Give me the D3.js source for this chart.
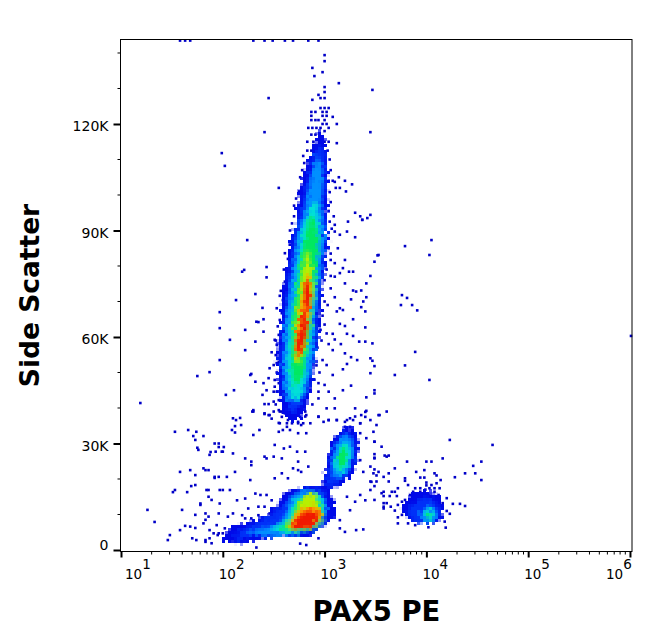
<!DOCTYPE html>
<html lang="en">
<head>
<meta charset="UTF-8">
<title>PAX5 PE vs Side Scatter</title>
<style>
body { margin: 0; background: #fff; }
text { font-family: "DejaVu Sans", sans-serif; fill: #000; }
.tick line, .minor { stroke: #000; }
</style>
</head>
<body>
<svg width="653" height="641">
  <defs>
    <filter id="cells" filterUnits="userSpaceOnUse" x="0" y="0" width="653" height="641" color-interpolation-filters="sRGB">
      <feGaussianBlur in="SourceGraphic" stdDeviation="1.6"/>
      <feComponentTransfer result="soft">
        <feFuncA type="linear" slope="4" intercept="-1"/>
      </feComponentTransfer>
      <feTurbulence type="fractalNoise" baseFrequency="0.4" numOctaves="2" seed="4" result="noise"/>
      <feDisplacementMap in="soft" in2="noise" scale="9" xChannelSelector="R" yChannelSelector="G" result="rough"/>
      <feFlood x="1" y="1" width="1" height="1" flood-color="#000"/>
      <feComposite width="3" height="3"/>
      <feTile result="grid"/>
      <feComposite in="rough" in2="grid" operator="in"/>
      <feMorphology operator="dilate" radius="1"/>
    </filter>
  </defs>
</svg>
<script src="https://cdn.jsdelivr.net/npm/d3@7"></script>
<script>
// x values are log10(PAX5 PE), y values are side scatter in thousands
var xDecades = [1, 2, 3, 4, 5, 6];
var xMinorSteps = [2, 3, 4, 5, 6, 7, 8, 9];
var yMajor = [0, 30, 60, 90, 120];
var yMinor = [10, 20, 40, 50, 70, 80, 100, 110, 130, 140];
var levelColors = ["#0008e8", "#0030f8", "#0090ff", "#00e0d8", "#00e860", "#b8f000", "#ff9800", "#f01800"];
var dotColor = "#0000c8";

// density bands, outermost first: [level, outline]
var ridgeBands = [
  [0, [[2.69,36],[2.58,39.4],[2.55,44.2],[2.55,49.9],[2.53,55.5],[2.57,63.9],[2.6,74.1],[2.67,87.3],[2.72,91],[2.73,96.6],[2.77,102.3],[2.8,106.2],[2.87,111.8],[2.92,116],[2.95,118],[2.99,116],[3.01,111.8],[3.04,106.2],[3.03,102.3],[3.03,96.6],[3.01,91],[3.04,87.3],[2.98,74.1],[2.95,63.9],[2.92,55.5],[2.89,49.9],[2.85,44.2],[2.8,39.4]]],
  [1, [[2.69,38.5],[2.59,44.2],[2.57,55.5],[2.6,63.9],[2.64,74.1],[2.7,87.3],[2.77,96.6],[2.84,106.2],[2.9,111.8],[2.95,114],[2.99,111.8],[3.01,106.2],[3.0,96.6],[3.01,87.3],[2.96,74.1],[2.92,63.9],[2.88,55.5],[2.82,44.2]]],
  [2, [[2.7,41],[2.61,44.2],[2.59,55.5],[2.61,63.9],[2.66,74.1],[2.72,87.3],[2.81,96.6],[2.88,106.2],[2.93,111],[2.98,106.2],[2.97,96.6],[3.0,87.3],[2.94,74.1],[2.91,63.9],[2.9,55.5],[2.81,44.2]]],
  [3, [[2.72,42],[2.66,44.2],[2.64,49.9],[2.64,55.5],[2.66,63.9],[2.71,74.1],[2.76,87.3],[2.81,92.9],[2.86,96.6],[2.91,98],[2.94,96.6],[2.94,92.9],[2.95,87.3],[2.91,74.1],[2.88,63.9],[2.84,55.5],[2.81,49.9],[2.78,44.2]]],
  [4, [[2.72,46],[2.68,49.9],[2.68,55.5],[2.68,63.9],[2.73,74.1],[2.8,87.3],[2.88,94],[2.94,87.3],[2.9,74.1],[2.86,63.9],[2.82,55.5],[2.79,49.9]]],
  [5, [[2.75,52],[2.7,57],[2.71,63.9],[2.76,74.1],[2.83,85],[2.895,74.1],[2.85,63.9],[2.81,57]]],
  [6, [[2.75,53.5],[2.705,58],[2.74,63.9],[2.775,70.4],[2.83,78],[2.875,70.4],[2.845,63.9],[2.795,58]]],
  [7, [[2.83,67],[2.795,71.8],[2.83,76],[2.865,71.8]]],
  [7, [[2.79,57.5],[2.755,63],[2.79,68],[2.83,63]]],
  [7, [[2.75,54.5],[2.72,58.5],[2.75,61.5],[2.785,58.5]]]
];

var lowerBands = [
  [0, [[2.0,2.8],[2.1,6.5],[2.34,8.5],[2.49,11.3],[2.63,16.1],[2.79,17.7],[2.98,17.7],[3.08,14.9],[3.12,10.4],[3.02,7.6],[2.83,4.2],[2.66,3.7],[2.43,3.4],[2.17,2.0]]],
  [1, [[2.12,4.2],[2.27,7],[2.48,9.9],[2.66,14.9],[2.81,16.9],[2.97,16.9],[3.03,13.2],[3.03,9.9],[2.93,7],[2.76,4.8],[2.56,3.9],[2.27,3.7],[2.12,2.8]]],
  [2, [[2.24,5.1],[2.56,7.6],[2.66,14.6],[2.79,16.9],[2.97,16.1],[3.02,11.3],[2.97,7],[2.76,4.8],[2.53,3.9]]],
  [3, [[2.49,5.6],[2.64,9.3],[2.71,14.1],[2.86,16.3],[2.97,14.6],[3.0,10.4],[2.93,7],[2.76,4.8]]],
  [4, [[2.56,6.2],[2.68,9],[2.74,13.5],[2.86,16.1],[2.95,13.5],[2.98,9.9],[2.92,7],[2.76,5.4]]],
  [5, [[2.62,6.5],[2.72,11],[2.8,15.5],[2.9,16],[2.95,12.5],[2.99,9],[2.92,6.8],[2.75,5.6]]],
  [6, [[2.65,7.2],[2.75,11],[2.89,12.5],[2.97,10],[2.9,6.9],[2.74,5.6]]],
  [7, [[2.68,7],[2.77,10],[2.91,11],[2.95,9],[2.86,6.8],[2.72,6]]]
];

var upperLobeBands = [
  [0, [[3.08,31],[3.2,34.4],[3.3,33],[3.33,27.3],[3.28,21.7],[3.15,18.3],[3.02,16.9],[2.97,19.2],[3.03,24.5]]],
  [1, [[3.1,30],[3.2,33.5],[3.28,32],[3.3,27.3],[3.25,22.3],[3.13,18.9],[3.03,18],[3.01,20.3],[3.06,24.5]]],
  [2, [[3.1,29],[3.2,32.4],[3.28,30.1],[3.28,25.4],[3.2,21.1],[3.1,20.3],[3.07,24.5]]],
  [3, [[3.12,27.3],[3.2,30.4],[3.26,27.6],[3.23,23.9],[3.15,21.7],[3.1,23.4]]],
  [4, [[3.13,26.2],[3.19,29],[3.22,27.3],[3.19,23.9],[3.14,23.4]]]
];

var rightBands = [
  [0, [[3.76,12.2],[3.87,15.9],[4.1,15.9],[4.16,12.1],[4.13,8.4],[3.99,7.3],[3.82,9]]],
  [1, [[3.84,12.7],[4.0,14.9],[4.13,12.1],[4.11,8.5],[3.94,7.3],[3.82,9.9]]],
  [2, [[3.94,10.7],[4.03,12.7],[4.11,10.7],[4.08,8.2],[3.97,7.9]]],
  [3, [[3.97,9.9],[4.01,11.3],[4.08,9.9],[4.03,8.5]]],
  [4, [[4.0,9.9],[4.03,10.4],[4.04,9.3],[4.0,9]]]
];

// single events
var topEdgeDots = [[1.58,143.5],[1.63,143.5],[1.68,143.5],[2.3,143.5],[2.41,143.5],[2.49,143.5],[2.61,143.5],[2.69,143.5],[2.84,143.5],[2.94,143.5],[6.01,60.3]];

var ridgeTopDots = [[3.0,139.4],[3.0,137.7],[2.88,135.8],[2.98,134.6],[2.9,133.5],[3.14,131.5],[3.47,129.6],[3.0,130.4],[3.0,129],[2.94,128.2],[2.45,127.3],[2.96,127.3],[3.0,127.3],[2.88,126.8],[2.41,117.7],[3.45,117.7],[2.55,102],[1.99,111.8],[2.02,108.2],
  [2.96,124.5],[3.0,124.5],[3.04,124.5],[2.87,123.4],[2.91,123.4],[2.98,123.4],[3.02,123.4],[2.87,122.3],[2.98,122.3],[3.02,122.3],[3.08,122],[2.87,121.1],[2.91,121.1],[2.94,121.1],[3.0,121.1],[2.98,120],[3.02,120],[3.12,120],[2.84,118.9],[2.88,118.9],[2.92,118.9],[2.96,118.9],[3.0,118],[3.04,118.9],[2.87,117],[2.91,117],[2.95,116],[3.0,115],[2.83,115],[2.89,115],[2.97,115],[3.04,115],[3.12,114.6],[2.79,111],[2.83,112.5],[2.87,112.5],[3.03,112.5],[3.05,110],[2.8,109],[2.78,107],[3.06,107],[3.14,105],[2.76,105],[2.8,103.6],[3.04,104],[3.08,104],[3.1,103.7],[3.2,104],[3.27,103],[2.75,101],[3.05,100.8],[3.11,102],[3.15,102],[3.21,101],[2.72,99],[2.7,97],[3.06,98],[3.04,95.5],[2.7,94],[2.68,92],[3.05,92.5],[3.09,94],[3.35,94],[3.42,93.5],[2.66,90],[3.07,90.5],[3.3,95],[3.37,93]];

var ridgeRightDots = [[3.1,91.6],[3.23,92.5],[3.1,89.7],[3.22,89.7],[3.15,88.8],[3.3,88.1],[3.13,85],[3.2,81.7],[3.49,81.2],[3.06,81.7],[3.1,80.8],[3.18,79.4],[3.15,78],[3.24,78.4],[3.28,78.4],[3.53,83.1],[3.06,77.2],[3.1,77],[3.45,77.2],[3.2,75.1],[3.41,75.1],[3.06,73.7],[3.28,73.1],[3.31,72.8],[3.36,73.1],[3.1,71.2],[3.26,70.6],[3.41,71.2],[3.38,70],[3.36,68.4],[3.4,67.2],[3.15,68.1],[3.18,67.6],[3.12,67.2],[3.28,65],[3.15,63.7],[3.2,63.1],[3.4,62.7],[3.02,61],[3.08,60.9],[3.22,60.9],[3.1,59.3],[3.28,60.3],[3.34,58.7],[3.4,58.7],[3.47,58.2],[3.04,58],[3.16,58],[3.08,56.3],[3.2,55.4],[3.26,54.3],[3.45,54],[3.32,53.5],[3.47,53.3],[3.49,51.8],[2.98,53.5],[3.02,52.1],[3.22,52.4],[3.18,50.9],[3.08,49.3],[3.45,49.8],[2.94,47],[3.0,46.5],[3.26,46.3],[3.18,45],[3.49,45],[3.49,44.1],[2.94,44.6],[3.04,44.6],[3.1,42.7],[3.41,43],[2.94,42.7],[3.02,39.9],[3.1,39.9],[3.3,39.9],[3.41,39.2],[3.36,38],[3.4,37.5],[3.45,36.6],[3.53,38],[2.94,37.5],[3.04,36.6],[2.99,36.1],[3.12,36.6],[3.22,36.6],[3.25,37.1],[3.28,36.6],[3.35,35.7],[3.2,34.7],[3.25,34.7],
  [3.04,85],[3.06,83.5],[3.02,79],[3.0,76],[3.0,70],[2.98,66],[2.96,62],[2.93,57],[2.92,52],[2.9,48],[2.86,45],[2.88,41],[2.82,38],[3.03,69],[3.0,63.5],[2.97,59],[2.95,50]];

var ridgeLeftDots = [[2.43,79.7],[2.43,76.8],[2.61,83.6],[2.61,75.6],[2.61,74.2],[2.32,72.1],[2.56,71.6],[2.59,70.4],[2.53,68.1],[2.33,64.3],[2.4,65],[2.4,61.5],[2.58,66.7],[2.56,64.8],[2.55,60.6],[2.53,57.8],[2.48,55.7],[2.52,54.9],[2.5,52.1],[2.46,51.2],[2.53,52.6],[2.28,49.6],[2.45,48.4],[2.32,47.4],[2.4,47],[2.51,47.9],[2.43,45],[2.5,44.6],[2.53,44.6],[2.56,44.6],[2.51,46],[2.55,47],[2.5,41.8],[2.41,41.1],[2.45,41.1],[2.55,42.2],[2.3,39],[2.41,38.5],[2.45,38],[2.5,39],[2.55,39.4],[2.58,39],[2.58,37.5],[2.61,38.5],[2.48,37],[2.55,35.8],[2.64,36.6],[2.68,35.7],[2.63,34.7],[2.74,36.1],[2.77,35.2],[2.86,35.7],[2.69,38],[2.76,37.5],[2.81,39],
  [2.66,86],[2.64,82],[2.6,79],[2.57,73],[2.54,63],[2.52,59],[2.53,50],[2.55,53],[2.52,41]];

var lowerSparseDots = [[2.1,37.1],[2.29,39],[2.18,35.2],[2.12,34.9],[1.74,33.3],[1.81,32.1],[2.12,33.1],[2.3,32.4],[2.36,33.8],[2.41,38.3],[2.46,38],[2.56,39],[2.59,38.7],[2.66,38],[2.69,39],[2.81,37.6],[2.56,35.7],[2.63,35.7],[2.74,35.7],[2.79,35.7],[2.55,33.3],[2.59,33.8],[2.66,33.8],[2.74,32.9],[2.82,32.9],[2.94,37.6],[3.04,36.6],[3.12,36.6],[3.2,36.1],[3.3,37.6],[3.35,35.7],[3.4,38.9],[3.54,38],[3.61,39],[3.51,35.2],[3.48,33.3],[3.41,31.5],[3.35,32.9],[3.49,30.5],[3.56,29.1],[3.61,26.3],[3.49,25.8],[3.35,25.3],[3.45,23.5],[3.38,22],[3.46,19.2],[3.53,22],[3.58,20.6],[3.45,16.9],[3.56,16],[3.58,12.2],[3.35,15.5],[3.4,14],[3.3,13.6],[3.22,15],[3.25,11.2],[3.15,8.4],[3.15,6.1],[3.2,5.1],[3.31,5.6],[3.38,5.8],[2.94,3.3],[2.76,1.8],[2.82,1.4],[2.33,0.7],[2.0,4.7],[2.02,6.1],
  [1.92,30],[1.96,30],[1.99,27.7],[2.0,27.7],[1.93,27.7],[1.76,28.2],[2.1,27.2],[2.28,24.9],[2.28,23.9],[2.22,25.8],[2.41,26.3],[2.43,25.8],[2.51,29.6],[2.6,28.6],[2.66,29.1],[2.73,27.7],[2.81,27.7],[2.5,26.3],[2.58,25.8],[2.74,24.9],[2.84,23.5],[2.69,23],[2.74,22.5],[2.77,22],[2.58,21.6],[2.64,20.2],[2.51,20.2],[2.27,19.7],[2.12,22],[2.04,20.6],[1.96,20.6],[1.92,20.6],[1.81,23],[1.86,22.5],[1.73,21.1],[1.69,18],[2.0,16.9],[2.07,16.9],[1.86,16.9],[1.78,13.1],[1.86,15],[1.97,13.1],[2.14,14],[2.22,14.5],[2.32,15.9],[2.37,15.5],[2.43,15.5],[2.25,11.7],[2.35,12.2],[2.41,12.2],[2.48,14],[1.83,10.3],[1.86,9.4],[1.96,10.3],[2.05,9.4],[2.1,10.3],[2.19,9.8],[2.22,8.9],[2.28,8.9],[2.35,9.8],[2.46,10.3],[2.5,10.3],[1.81,7.5],[1.91,4.7],[1.96,4.7],[1.87,3.3],[1.83,2.3],[1.74,2.8],[1.7,3.3],[1.89,1.9],[1.68,6.6],
  [1.19,41.4],[1.26,11.3],[1.33,7.9],[1.48,4.2],[1.58,5.6],[1.46,2.8],[1.63,6.8],[1.53,16.9],[1.51,16.3],[1.58,22],[1.68,22.5],[1.73,18.3],[1.83,22.5],[1.87,26.8],[1.92,20.3],[1.78,12.7],[1.89,14.1],[1.83,8.5],[1.73,6.2],[1.83,2.8],[1.87,5.6],[1.94,7],[1.95,4.2],[1.84,16.9],[1.65,16.3],[1.97,16.9],[1.6,11.3],[1.73,9.9],[1.53,33.3],[1.66,33.8],[1.71,32.1],[1.96,29],[2.01,29],[1.88,27.6],[1.75,28.8],[1.73,31],
  [1.75,49],[1.97,62.5],[1.97,67],[2.21,78.9],[2.24,87.3],[2.19,78.4],[2.13,70.4],[2.39,68.2],[2.35,64.2],[2.07,59.2],[2.22,56.3],[2.27,49.3],[2.13,36.6],[2.17,37.2],[2.09,33.8],[2.03,43.7],[2.11,45],[2.3,39.4],[2.39,43.7],[1.87,50.1],[1.97,53.5],[2.22,62],[2.51,59.2],[2.32,58.7]];

var rightSparseDots = [[3.76,71.8],[3.79,85.6],[4.05,87.3],[4.03,83.1],[3.81,71],[3.86,69],[3.91,67.5],[3.69,49.3],[3.79,52],[4.03,47.9],[4.23,31],[4.65,29.6],[3.89,55.8],[3.52,83],[3.37,93],[3.45,94.4],[3.75,69],
  [3.49,30.5],[3.49,27],[3.49,26],[3.59,26.6],[3.63,26.6],[3.49,22.7],[3.81,24.9],[4.0,24.9],[4.05,24.9],[4.16,25.8],[4.54,24.9],[4.46,23.7],[3.69,23],[3.48,21.6],[3.51,21],[3.63,21.6],[3.9,22],[3.98,22.5],[4.08,21.6],[4.1,21],[4.38,21.6],[4.48,21.6],[4.28,20.5],[4.54,19.7],[3.79,20.2],[3.79,19.5],[3.94,20.4],[3.98,20.4],[4.14,19.7],[3.45,19.3],[3.51,19.3],[3.63,19.3],[3.49,18],[3.82,18.3],[4.0,19],[4.0,18.2],[4.05,18.3],[4.1,18.8],[3.72,17.4],[3.89,17.4],[3.94,17.4],[3.99,17],[4.03,17.4],[4.08,17.4],[4.13,17.4],[3.69,16.4],[3.58,16.4],[3.66,16.4],[3.87,16.4],[3.94,16.4],[4.08,16.4],[3.58,15.2],[3.64,15.2],[3.71,15.2],[3.84,15.5],[3.92,15.5],[4.02,15.5],[4.12,15.5],[3.49,14.1],[3.61,13.2],[3.58,13.2],[3.58,11.7],[3.65,12.2],[3.69,11.1],[3.72,12.7],[3.76,13.6],[3.79,14.1],[4.2,14.6],[4.26,13],[4.33,13],[4.38,12.4],[4.16,13.2],[4.2,11],[4.23,10.2],[4.18,8],[4.19,6.3],[3.72,7.5],[4.02,6.4],[3.89,7],[3.82,7.5],[3.76,9.9],[3.72,9.2]];

var svg = d3.select("svg");
var plot = { left: 120.5, right: 632, top: 39.5, bottom: 551.5 };

var x = d3.scaleLog().domain([10, Math.pow(10, 6.02)]).range([121, plot.right]);
var y = d3.scaleLinear().domain([0, 143.8]).range([550, plot.top]);

var px = function (d) { return x(Math.pow(10, d[0])); };
var py = function (d) { return y(d[1]); };

// single events
var allDots = topEdgeDots.concat(ridgeTopDots, ridgeRightDots, ridgeLeftDots, lowerSparseDots, rightSparseDots);
svg.append("g").selectAll("rect").data(allDots).enter().append("rect")
  .attr("x", function (d) { return px(d) - 1.3; })
  .attr("y", function (d) { return py(d) - 1.3; })
  .attr("width", 2.6)
  .attr("height", 2.6)
  .attr("fill", dotColor);

// density bands
var outline = d3.line().x(px).y(py).curve(d3.curveCardinalClosed.tension(0.3));
var density = svg.append("g").attr("filter", "url(#cells)");
[rightBands, upperLobeBands, lowerBands, ridgeBands].forEach(function (bands) {
  density.append("g").selectAll("path").data(bands).enter().append("path")
    .attr("d", function (d) { return outline(d[1]); })
    .attr("fill", function (d) { return levelColors[d[0]]; });
});

// frame
svg.append("rect")
  .attr("x", plot.left)
  .attr("y", plot.top)
  .attr("width", plot.right - plot.left)
  .attr("height", plot.bottom - plot.top)
  .attr("fill", "none")
  .attr("stroke", "#000");

// x axis
var xAxis = svg.append("g")
  .attr("transform", "translate(0," + plot.bottom + ")")
  .call(d3.axisBottom(x)
    .tickValues(xDecades.map(function (e) { return Math.pow(10, e); }))
    .tickSize(6)
    .tickFormat(""));
xAxis.select(".domain").remove();
xAxis.selectAll(".tick line").attr("stroke-width", 2);

var xMinor = [];
xDecades.slice(0, 5).forEach(function (e) {
  xMinorSteps.forEach(function (s) { xMinor.push(s * Math.pow(10, e)); });
});
svg.append("g").selectAll("line").data(xMinor).enter().append("line")
  .attr("class", "minor")
  .attr("x1", function (d) { return x(d); })
  .attr("x2", function (d) { return x(d); })
  .attr("y1", plot.bottom)
  .attr("y2", plot.bottom + 3);

var xLabelShift = [4, -4, -4, -4, -4, -24];
var xLabels = svg.append("g").selectAll("text").data(xDecades).enter().append("text")
  .attr("x", function (d, i) { return x(Math.pow(10, d)) + xLabelShift[i]; })
  .attr("y", 579)
  .attr("font-size", 13.5);
xLabels.append("tspan").text("10");
xLabels.append("tspan").attr("dy", -10).text(function (d) { return d; });

// y axis
var yAxis = svg.append("g")
  .attr("transform", "translate(" + plot.left + ",0)")
  .call(d3.axisLeft(y)
    .tickValues(yMajor)
    .tickSize(7)
    .tickPadding(5)
    .tickFormat(function (d) { return d === 0 ? "0" : d + "K"; }));
yAxis.select(".domain").remove();
yAxis.selectAll(".tick line").attr("stroke-width", 2);
yAxis.selectAll("text")
  .attr("font-size", 14)
  .attr("font-family", "DejaVu Sans")
  .attr("dy", function (d) { return d === 0 ? "-0.05em" : "0.5em"; });

svg.append("g").selectAll("line").data(yMinor).enter().append("line")
  .attr("class", "minor")
  .attr("x1", plot.left - 3)
  .attr("x2", plot.left)
  .attr("y1", function (d) { return y(d); })
  .attr("y2", function (d) { return y(d); });

// titles
svg.append("text")
  .attr("x", 376.5)
  .attr("y", 621)
  .attr("text-anchor", "middle")
  .attr("font-size", 27.5)
  .attr("font-weight", "bold")
  .text("PAX5 PE");

svg.append("text")
  .attr("transform", "translate(39,295.5) rotate(-90)")
  .attr("text-anchor", "middle")
  .attr("font-size", 26.5)
  .attr("font-weight", "bold")
  .text("Side Scatter");
</script>
</body>
</html>
